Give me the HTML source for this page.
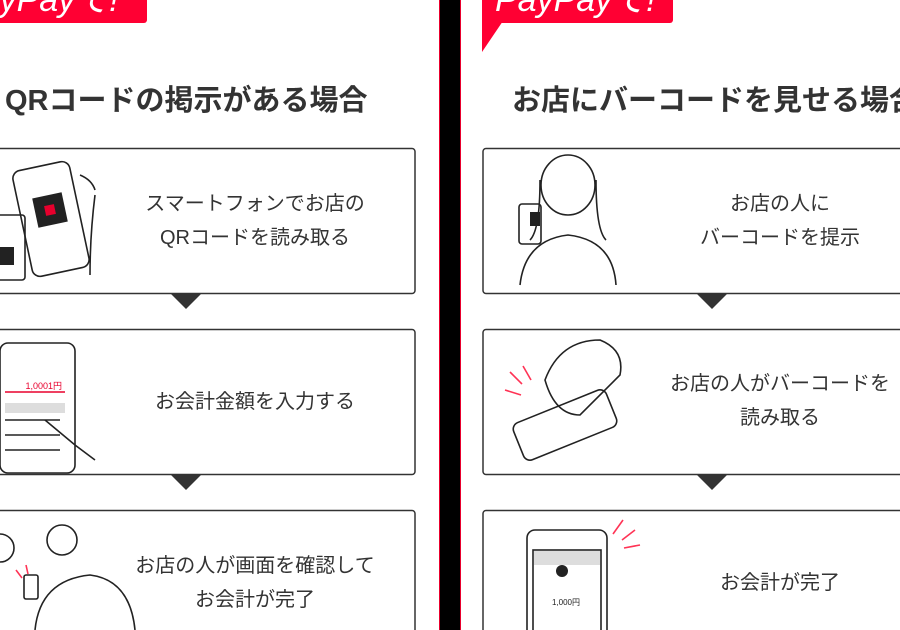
<!DOCTYPE html>
<html><head><meta charset="utf-8"><style>
html,body{margin:0;padding:0;background:#fff;}
svg{display:block;}
text{font-family:"Liberation Sans","Noto Sans CJK JP",sans-serif;}
</style></head><body>
<svg width="900" height="630" viewBox="0 0 900 630" xmlns="http://www.w3.org/2000/svg">
<rect width="900" height="630" fill="#fff"/>
<rect x="439" y="0" width="22" height="630" fill="#e8002d"/>
<rect x="440" y="0" width="20" height="630" fill="#000"/>
<rect x="-10" y="-10" width="157" height="33" rx="3" fill="#ff0033"/>
<text x="-42" y="11" font-size="34" font-style="italic" fill="#fff">PayPayで!</text>
<rect x="482" y="-10" width="191" height="33" rx="3" fill="#ff0033"/>
<polygon points="482,18 505,18 482,52" fill="#ff0033"/>
<text x="495" y="11" font-size="34" font-style="italic" fill="#fff">PayPayで!</text>
<text x="5" y="110" font-size="29" font-weight="bold" fill="#333">QRコードの掲示がある場合</text>
<text x="512" y="110" font-size="29" font-weight="bold" fill="#333">お店にバーコードを見せる場合</text>
<g fill="#fff" stroke="#333" stroke-width="1.5">
<rect x="-5" y="148.5" width="420" height="145" rx="3"/>
<rect x="-5" y="329.5" width="420" height="145" rx="3"/>
<rect x="-5" y="510.5" width="420" height="145" rx="3"/>
<rect x="483" y="148.5" width="430" height="145" rx="3"/>
<rect x="483" y="329.5" width="430" height="145" rx="3"/>
<rect x="483" y="510.5" width="430" height="145" rx="3"/>
</g>
<g fill="#333">
<polygon points="171,294 201,294 186,309"/>
<polygon points="171,475 201,475 186,490"/>
<polygon points="697,294 727,294 712,309"/>
<polygon points="697,475 727,475 712,490"/>
</g>
<g font-size="20" fill="#333" text-anchor="middle">
<text x="255" y="210">スマートフォンでお店の</text>
<text x="255" y="244">QRコードを読み取る</text>
<text x="255" y="408">お会計金額を入力する</text>
<text x="255" y="572">お店の人が画面を確認して</text>
<text x="255" y="606">お会計が完了</text>
<text x="780" y="210">お店の人に</text>
<text x="780" y="244">バーコードを提示</text>
<text x="780" y="390">お店の人がバーコードを</text>
<text x="780" y="424">読み取る</text>
<text x="780" y="589">お会計が完了</text>
</g>
<g fill="none" stroke="#222" stroke-width="1.6">
<rect x="22" y="165" width="58" height="108" rx="8" transform="rotate(-12 51 219)"/>
<rect x="-5" y="215" width="30" height="65" rx="3"/>
<path d="M80 175 q12 5 15 15 M95 195 q-5 40 -5 80"/>
<rect x="0" y="343" width="75" height="130" rx="8"/>
<path d="M45 420 l30 25 l20 15"/>
<path d="M5 420 h55 M5 435 h55 M5 450 h55"/>
<circle cx="62" cy="540" r="15"/><path d="M35 630 q5-50 55-55 q40 5 45 55"/>
<circle cx="0" cy="548" r="14"/>
<rect x="24" y="575" width="14" height="24" rx="2"/>
<ellipse cx="568" cy="185" rx="27" ry="30"/>
<path d="M540 180 q0 50 -10 60 M596 180 q0 50 10 60 M520 285 q5-45 48-50 q45 5 48 50"/>
<rect x="519" y="204" width="22" height="40" rx="3"/>
<path d="M545 380 q15-40 55-40 q25 10 20 35 l-40 40 q-25 0 -35 -35z"/>
<rect x="515" y="405" width="100" height="40" rx="7" transform="rotate(-22 565 425)"/>
<rect x="527" y="530" width="80" height="110" rx="8"/>
<rect x="533" y="550" width="68" height="90"/>
</g>
<g fill="#222">
<rect x="35" y="195" width="30" height="30" transform="rotate(-12 50 210)"/>
<rect x="0" y="247" width="14" height="18"/>
<circle cx="562" cy="571" r="6"/>
<text x="566" y="605" font-size="8" text-anchor="middle">1,000円</text>
<rect x="530" y="212" width="10" height="14"/>
</g>
<rect x="45" y="205" width="10" height="10" fill="#e8002d" transform="rotate(-12 50 210)"/>
<rect x="534" y="551" width="66" height="14" fill="#ddd"/>
<line x1="5" y1="392" x2="65" y2="392" stroke="#e8002d" stroke-width="1.5"/>
<text x="62" y="389" font-size="9" fill="#e8002d" text-anchor="end">1,0001円</text>
<rect x="5" y="403" width="60" height="10" fill="#ddd"/>
<g stroke="#ff3355" stroke-width="1.6">
<line x1="510" y1="372" x2="522" y2="384"/><line x1="523" y1="366" x2="531" y2="380"/><line x1="505" y1="390" x2="521" y2="395"/>
<line x1="613" y1="534" x2="623" y2="520"/><line x1="622" y1="540" x2="635" y2="530"/><line x1="624" y1="548" x2="640" y2="545"/>
<line x1="16" y1="570" x2="22" y2="578"/><line x1="26" y1="565" x2="28" y2="574"/>
</g>
</svg>
</body></html>
